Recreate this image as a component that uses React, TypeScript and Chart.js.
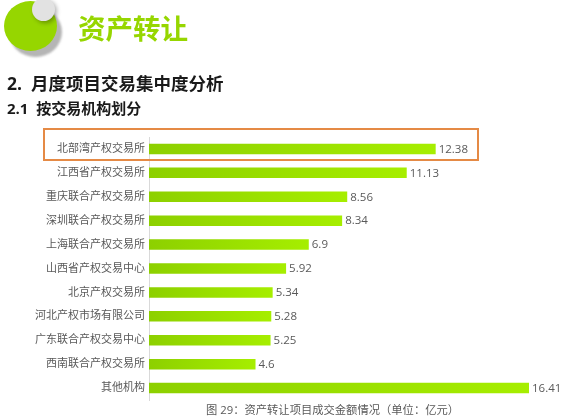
import React, { useEffect, useRef } from "react";
import { Chart, registerables } from "chart.js";

Chart.register(...registerables);

const categories = [
  "北部湾产权交易所",
  "江西省产权交易所",
  "重庆联合产权交易所",
  "深圳联合产权交易所",
  "上海联合产权交易所",
  "山西省产权交易中心",
  "北京产权交易所",
  "河北产权市场有限公司",
  "广东联合产权交易中心",
  "西南联合产权交易所",
  "其他机构",
];
const amounts = [12.38, 11.13, 8.56, 8.34, 6.9, 5.92, 5.34, 5.28, 5.25, 4.6, 16.41];

const pageTitle = "资产转让";
const heading = "2.  月度项目交易集中度分析";
const subHeading = "2.1  按交易机构划分";
const caption = "图 29：资产转让项目成交金额情况（单位：亿元）";

const FONT = '"Open Sans", "Noto Sans CJK SC", sans-serif';

const valueLabels = {
  id: "valueLabels",
  afterDatasetsDraw(chart: any) {
    const { ctx } = chart;
    const meta = chart.getDatasetMeta(0);
    ctx.save();
    ctx.font = `11.5px ${FONT}`;
    ctx.fillStyle = "#595959";
    ctx.textAlign = "left";
    ctx.textBaseline = "middle";
    meta.data.forEach((bar: any, i: number) => {
      ctx.fillText(String(amounts[i]), bar.x + 3, bar.y + 0.5);
    });
    ctx.restore();
  },
};

export default function App() {
  const ref = useRef<HTMLCanvasElement>(null);
  useEffect(() => {
    const chart = new Chart(ref.current!, {
      type: "bar",
      data: {
        labels: categories,
        datasets: [
          {
            data: amounts,
            barPercentage: 0.44,
            categoryPercentage: 1,
            backgroundColor: (c: any) => {
              const { chart: ch, dataIndex } = c;
              if (!ch.chartArea || dataIndex === undefined) return "#9ade00";
              const xs = ch.scales.x;
              const g = ch.ctx.createLinearGradient(
                xs.getPixelForValue(0),
                0,
                xs.getPixelForValue(amounts[dataIndex]),
                0
              );
              g.addColorStop(0, "#8dd000");
              g.addColorStop(1, "#a6ee00");
              return g;
            },
          },
        ],
      },
      options: {
        indexAxis: "y",
        animation: false,
        responsive: false,
        layout: { padding: { top: 137, bottom: 20, left: 0, right: 36 } },
        plugins: { legend: { display: false }, tooltip: { enabled: false } },
        scales: {
          x: { display: false, min: 0, max: 16.41 },
          y: {
            afterFit: (s: any) => {
              s.width = 149;
            },
            grid: { display: false, drawTicks: false },
            border: { color: "#d9d9d9", width: 1 },
            ticks: {
              autoSkip: false,
              padding: 4,
              color: "#595959",
              font: { family: FONT, size: 11 },
            },
          },
        },
      },
      plugins: [valueLabels],
    } as any);
    return () => chart.destroy();
  }, []);

  const text = (s: string, left: number, top: number, size: number, color: string, bold = false) => (
    <div
      style={{
        position: "absolute",
        left,
        top,
        fontSize: size,
        lineHeight: `${size + 4}px`,
        color,
        fontWeight: bold ? 700 : 400,
        fontFamily: FONT,
        whiteSpace: "pre",
      }}
    >
      {s}
    </div>
  );

  return (
    <div style={{ position: "fixed", left: 0, top: 0, width: 565, height: 420, background: "#fff", overflow: "hidden" }}>
      <canvas ref={ref} width={565} height={420} style={{ position: "absolute", left: 0, top: 0 }} />
      <div style={{ position: "absolute", left: 9, top: 7, width: 53, height: 50, borderRadius: "50%", background: "#b5b5b5", filter: "blur(1.2px)" }} />
      <div style={{ position: "absolute", left: 4, top: 1, width: 53, height: 50, borderRadius: "50%", background: "#96d600" }} />
      <div style={{ position: "absolute", left: 32, top: -2, width: 23, height: 23, borderRadius: "50%", background: "#e2e2e2", boxShadow: "2px 2px 4px rgba(0,0,0,0.3)" }} />
      {text(pageTitle, 78, 13, 27.5, "#96d600", true)}
      {text(heading, 7, 73, 17.5, "#1a1a1a", true)}
      {text(subHeading, 7, 99, 15, "#1a1a1a", true)}
      {text(caption, 206, 402, 11.3, "#595959")}
      <div style={{ position: "absolute", left: 43, top: 128, width: 432, height: 29, border: "2px solid #e58a45" }} />
    </div>
  );
}
